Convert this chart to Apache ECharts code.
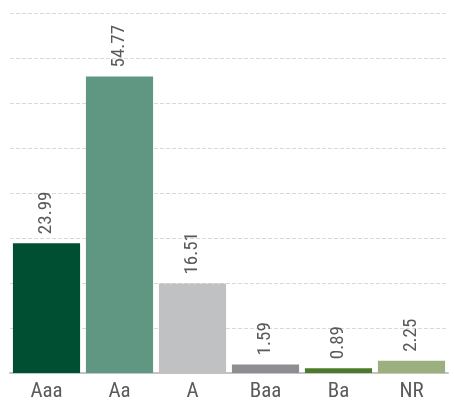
<!DOCTYPE html>
<html>
<head>
<meta charset="utf-8">
<script src="https://cdn.jsdelivr.net/npm/echarts@6/dist/echarts.min.js"></script>
<style>html,body{margin:0;padding:0;background:#fff;}#c{width:454px;height:402px;}</style>
</head>
<body>
<div id="c"></div>
<script>
const categories = ['Aaa', 'Aa', 'A', 'Baa', 'Ba', 'NR'];
const values = [23.99, 54.77, 16.51, 1.59, 0.89, 2.25];
const colors = ['#004f33', '#5f9783', '#c0c1c3', '#8c8e91', '#4b7a2b', '#9bb07e'];

const FONT = '"Roboto Condensed", "DejaVu Sans Condensed", sans-serif';
const chart = echarts.init(document.getElementById('c'));
chart.setOption({
  animation: false,
  grid: { left: 10, right: 6, top: 13, bottom: 29, containLabel: false },
  xAxis: {
    type: 'category',
    data: categories,
    axisTick: { show: false },
    axisLine: { lineStyle: { color: '#c4c4c4', width: 2 } },
    axisLabel: { color: '#5a5a5a', fontSize: 21, fontWeight: 'normal', fontFamily: FONT, margin: 8 }
  },
  yAxis: {
    type: 'value',
    min: 0,
    max: 66.5,
    interval: 8.3125,
    axisLabel: { show: false },
    axisLine: { show: false },
    axisTick: { show: false },
    splitLine: { lineStyle: { color: '#d9d9d9', type: [4, 2], width: 1 } }
  },
  series: [{
    type: 'bar',
    data: values.map((v, i) => ({ value: v, itemStyle: { color: colors[i] } })),
    barWidth: '92%',
    label: {
      show: true,
      position: 'top',
      rotate: 90,
      align: 'left',
      verticalAlign: 'middle',
      distance: 9,
      color: '#5a5a5a',
      fontSize: 19,
      fontWeight: 'normal',
      fontFamily: FONT,
      formatter: p => p.value.toFixed(2)
    }
  }]
});
</script>
</body>
</html>
